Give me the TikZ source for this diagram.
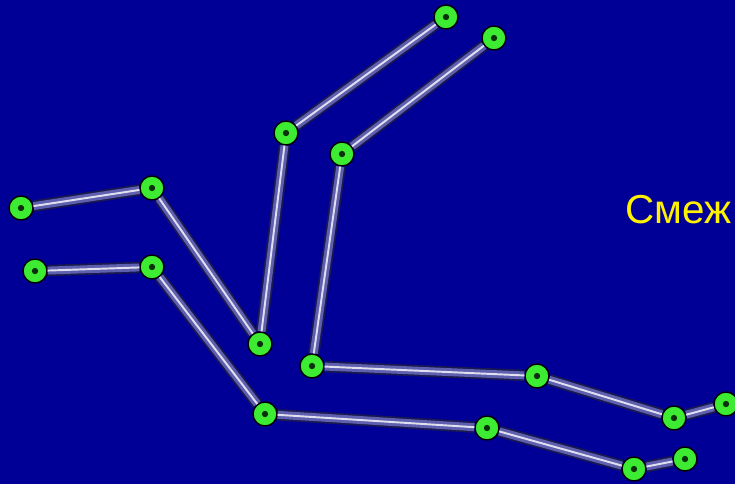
\documentclass[tikz,border=0pt]{standalone}
\usepackage{fontspec}
\setmainfont{Liberation Sans}
\usepackage{xcolor}
\usepackage{tikz}

\definecolor{bgblue}{RGB}{0,0,150}
\definecolor{tubeedge}{RGB}{25,25,80}
\definecolor{tubefill}{RGB}{95,95,175}
\definecolor{jointgreen}{RGB}{60,235,50}
\definecolor{jointdot}{RGB}{10,50,10}

\begin{document}
\begin{tikzpicture}[
    x=0.02cm, y=-0.02cm,
    joint/.style = {circle, draw=black, line width=0.8pt, fill=jointgreen,
                    minimum size=0.48cm, inner sep=0pt,
                    path picture={\fill[jointdot] (path picture bounding box.center) circle (1.8pt);}},
    tube/.style  = {draw=tubeedge, line width=6.5pt,
                    postaction={draw=tubefill, line width=4.5pt},
                    postaction={draw=white!80!tubefill, line width=1.1pt}},
    caption/.style = {anchor=base west, text=yellow, inner sep=0pt,
                      font=\fontsize{23}{28}\selectfont}
  ]
  \fill[bgblue] (0,0) rectangle (735,484);
  \useasboundingbox (0,0) rectangle (735,484);

  % upper chain
  \node[joint] (a1) at (21,208)  {};
  \node[joint] (a2) at (152,188) {};
  \node[joint] (a3) at (260,344) {};
  \node[joint] (a4) at (286,133) {};
  \node[joint] (a5) at (446,17)  {};
  % middle chain
  \node[joint] (b1) at (494,38)  {};
  \node[joint] (b2) at (342,154) {};
  \node[joint] (b3) at (312,366) {};
  \node[joint] (b4) at (537,376) {};
  \node[joint] (b5) at (674,418) {};
  \node[joint] (b6) at (726,404) {};
  % lower chain
  \node[joint] (c1) at (35,271)  {};
  \node[joint] (c2) at (152,267) {};
  \node[joint] (c3) at (265,414) {};
  \node[joint] (c4) at (487,428) {};
  \node[joint] (c5) at (634,469) {};
  \node[joint] (c6) at (685,459) {};

  \node[caption] (title) at (625,223) {Смеж};

  \draw[tube] (a1) -- (a2) -- (a3) -- (a4) -- (a5);
  \draw[tube] (b1) -- (b2) -- (b3) -- (b4) -- (b5) -- (b6);
  \draw[tube] (c1) -- (c2) -- (c3) -- (c4) -- (c5) -- (c6);
\end{tikzpicture}
\end{document}
